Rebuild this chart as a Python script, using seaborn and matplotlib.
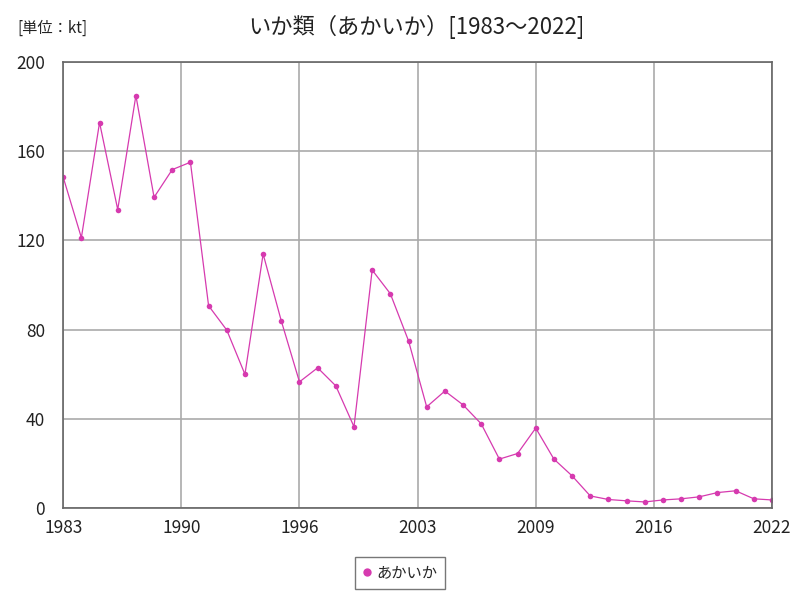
import numpy as np
import pandas as pd
import matplotlib
matplotlib.use("Agg")
import matplotlib.pyplot as plt
import seaborn as sns

years = list(range(1983, 2023))
values = [148.3, 121.2, 172.8, 133.8, 184.9, 139.3, 151.7, 155.0, 90.7, 79.8,
          60.0, 113.9, 83.9, 56.6, 62.9, 54.8, 36.5, 106.7, 96.1, 75.0,
          45.4, 52.5, 46.3, 37.8, 22.0, 24.5, 35.9, 22.0, 14.5, 5.5,
          3.9, 3.3, 2.8, 3.7, 4.2, 5.1, 7.0, 7.8, 4.2, 3.7]
series_name = "あかいか"
xtick_labels = ["1983", "1990", "1996", "2003", "2009", "2016", "2022"]
ytick_values = [0, 40, 80, 120, 160, 200]
title = "いか類（あかいか）[1983～2022]"
unit = "[単位：kt]"

sns.set_theme(style="white")
plt.rcParams['font.family'] = ['Noto Sans CJK JP', 'DejaVu Sans']

df = pd.DataFrame({"year": years, "value": values, "series": series_name})

fig = plt.figure(figsize=(8, 6), dpi=100)
ax = fig.add_axes([0.079, 0.153, 0.886, 0.744])
color = "#d63aaf"
sns.lineplot(data=df, x="year", y="value", hue="series", palette=[color],
             marker="o", markersize=4, markeredgewidth=0, linewidth=0.9, ax=ax)

ax.set_xlim(1983, 2022)
ax.set_ylim(0, 200)
ax.set_xticks(np.linspace(1983, 2022, 7))
ax.set_xticklabels(xtick_labels)
ax.set_yticks(ytick_values)
ax.grid(True, color="#aaaaaa", linewidth=1.2)
ax.set_axisbelow(True)
for s in ax.spines.values():
    s.set_color("#666666")
    s.set_linewidth(1.2)
ax.tick_params(axis="both", labelsize=12.5, colors="#222222", length=0)
ax.tick_params(axis="x", pad=8)
ax.tick_params(axis="y", pad=13)
ax.set_xlabel("")
ax.set_ylabel("")

handles, labels = ax.get_legend_handles_labels()
ax.get_legend().remove()
leg = fig.legend(handles, labels, loc="center", bbox_to_anchor=(0.5, 0.045),
                 frameon=True, fontsize=11, handlelength=0.6, handletextpad=0.3,
                 fancybox=False, borderpad=0.5)
leg.get_frame().set_edgecolor("#555555")
leg.get_frame().set_linewidth(1.0)
for h in leg.legend_handles:
    h.set_linestyle("none")
    h.set_marker("o")
    h.set_markersize(6)

fig.text(0.52, 0.955, title, ha="center", va="center", fontsize=16, color="#222222")
fig.text(0.022, 0.953, unit, ha="left", va="center", fontsize=11, color="#222222")

fig.savefig("out.png", dpi=100, facecolor="white")
